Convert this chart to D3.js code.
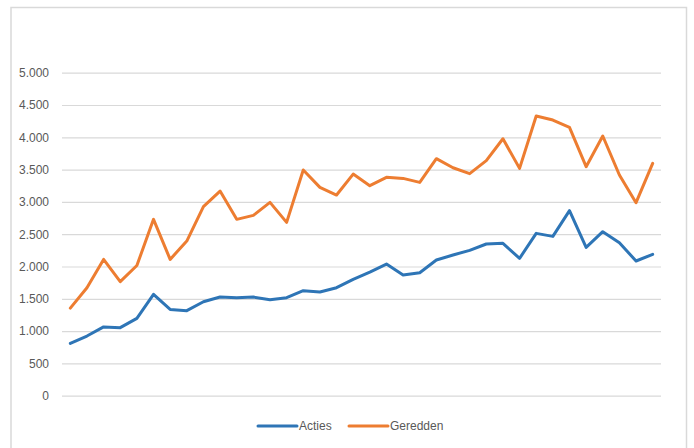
<!DOCTYPE html>
<html>
<head>
<meta charset="utf-8">
<script src="https://cdn.jsdelivr.net/npm/d3@7"></script>
<style>
  body { margin: 0; background: #fff; }
  svg text { font-family: "Liberation Sans", Arial, sans-serif; font-size: 12px; fill: #595959; }
</style>
</head>
<body>
<svg width="694" height="448"></svg>
<script>
var svg = d3.select("svg");

// data (36 periods)
var periods = d3.range(1, 37);
var acties = [810, 924, 1065, 1053, 1197, 1569, 1336, 1316, 1455, 1527,
    1515, 1527, 1486, 1517, 1625, 1605, 1672, 1801, 1914, 2038,
    1868, 1904, 2100, 2178, 2250, 2348, 2358, 2126, 2513, 2466,
    2864, 2296, 2539, 2368, 2085, 2188];
var geredden = [1355, 1672, 2110, 1765, 2015, 2730, 2110, 2394, 2926, 3168,
    2730, 2791, 2993, 2683, 3493, 3225, 3106, 3431, 3251, 3380,
    3364, 3302, 3669, 3529, 3437, 3638, 3978, 3519, 4329, 4267,
    4154, 3545, 4020, 3416, 2988, 3596];
var seriesNames = ["Acties", "Geredden"];
var seriesColors = ["#2E75B6", "#ED7D31"];
var yTicks = d3.range(0, 5001, 500);

var plot = { left: 62, right: 661, top: 72.7, bottom: 395.7 };

// chart border (bottom edge falls outside the picture)
svg.append("rect")
    .attr("x", 11).attr("y", 7.5)
    .attr("width", 675.5).attr("height", 460)
    .attr("fill", "none")
    .attr("stroke", "#D9D9D9")
    .attr("stroke-width", 1.5);

var x = d3.scaleBand()
    .domain(periods)
    .range([plot.left, plot.right]);

var y = d3.scaleLinear()
    .domain([0, 5000])
    .range([plot.bottom, plot.top]);

var fmt = function (v) { return d3.format(",")(v).replace(/,/g, "."); };

// gridlines + labels
var yAxis = svg.append("g")
    .attr("transform", "translate(" + plot.left + ",0)")
    .call(d3.axisLeft(y)
        .tickValues(yTicks)
        .tickSize(-(plot.right - plot.left))
        .tickPadding(13)
        .tickFormat(fmt));
yAxis.select(".domain").remove();
yAxis.selectAll("line").attr("stroke", "#D9D9D9").attr("stroke-width", 1.2);
yAxis.selectAll("text")
    .attr("fill", "#595959")
    .style("font-family", "'Liberation Sans', Arial, sans-serif")
    .style("font-size", "12px");

var line = d3.line()
    .x(function (d, i) { return x(periods[i]) + x.bandwidth() / 2; })
    .y(function (d) { return y(d); });

[acties, geredden].forEach(function (s, k) {
    svg.append("path")
        .datum(s)
        .attr("fill", "none")
        .attr("stroke", seriesColors[k])
        .attr("stroke-width", 3)
        .attr("stroke-linejoin", "round")
        .attr("stroke-linecap", "round")
        .attr("d", line);
});

// legend
var legendX = [258, 349];
seriesNames.forEach(function (name, k) {
    var g = svg.append("g").attr("transform", "translate(" + legendX[k] + ",426)");
    g.append("line")
        .attr("x1", 0).attr("x2", 39)
        .attr("stroke", seriesColors[k])
        .attr("stroke-width", 3)
        .attr("stroke-linecap", "round");
    g.append("text")
        .attr("x", 41)
        .attr("dy", "0.35em")
        .text(name);
});
</script>
</body>
</html>
